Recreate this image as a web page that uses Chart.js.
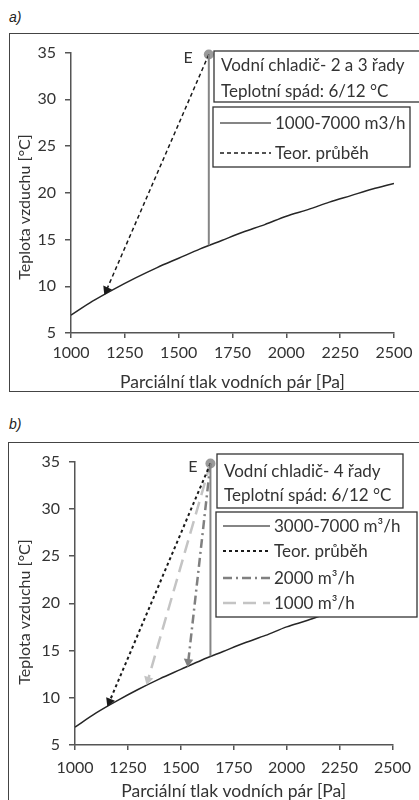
<!DOCTYPE html>
<html lang="cs">
<head>
<meta charset="UTF-8">
<title>Vodní chladič – průběh chlazení</title>
<script src="https://cdn.jsdelivr.net/npm/chart.js"></script>
<style>
    body {
        margin: 0;
        width: 419px;
        height: 800px;
        overflow: hidden;
        background: #fff;
        position: relative;
    }
    .tag {
        position: absolute;
        font-family: "Liberation Sans", Arial, sans-serif;
        font-style: italic;
        font-size: 14px;
        color: #222;
    }
    .frame {
        position: absolute;
        border: 1.5px solid #444;
        box-sizing: border-box;
    }
    .panel {
        position: absolute;
        left: 0;
        width: 419px;
        height: 357px;
    }
</style>
</head>
<body>

<div class="tag" style="left:9px;top:9px">a)</div>
<div class="frame" style="left:9px;top:33px;width:440px;height:359px"></div>
<div class="panel" style="top:34px"><canvas id="chartA"></canvas></div>

<div class="tag" style="left:9px;top:416px">b)</div>
<div class="frame" style="left:8px;top:442px;width:440px;height:400px"></div>
<div class="panel" style="top:443px"><canvas id="chartB"></canvas></div>

<script>
    // saturation curve (both panels)
    const satPressure = [1000, 1100, 1200, 1300, 1400, 1500, 1600, 1700, 1800, 1900, 2000, 2100, 2200, 2300, 2400, 2500];
    const satTemp     = [6.9, 8.4, 9.7, 10.9, 12.0, 13.0, 14.0, 14.9, 15.8, 16.6, 17.5, 18.2, 19.0, 19.7, 20.4, 21.0];

    // inlet state E
    const pointE = [1640, 34.8];

    // panel a
    const aRealX   = [1640, 1640];
    const aRealY   = [34.8, 14.4];
    const aTheorX  = [1640, 1165];
    const aTheorY  = [34.8, 9.6];
    const aLegend  = ['1000-7000 m3/h', 'Teor. průběh'];
    const aTitle   = ['Vodní chladič- 2 a 3 řady', 'Teplotní spád: 6/12 °C'];

    // panel b
    const bRealX   = [1640, 1640];
    const bRealY   = [34.8, 14.4];
    const bTheorX  = [1640, 1163];
    const bTheorY  = [34.8, 9.6];
    const b2000X   = [1640, 1535];
    const b2000Y   = [34.8, 13.8];
    const b1000X   = [1640, 1345];
    const b1000Y   = [34.8, 11.9];
    const bLegend  = ['3000-7000 m³/h', 'Teor. průběh', '2000 m³/h', '1000 m³/h'];
    const bTitle   = ['Vodní chladič- 4 řady', 'Teplotní spád: 6/12 °C'];

    const xLabel = 'Parciální tlak vodních pár [Pa]';
    const yLabel = 'Teplota vzduchu [°C]';

    const FONT = 'Lato, "Open Sans", sans-serif';
    const TEXT = '#333';

    function pts(xs, ys) {
        return xs.map((x, i) => ({ x: x, y: ys[i] }));
    }

    // rotate the end triangle along the line direction (pixel space)
    function arrowRotation(ctx) {
        const d = ctx.dataset.data;
        const sx = ctx.chart.scales.x, sy = ctx.chart.scales.y;
        const a = d[0], b = d[d.length - 1];
        const dx = sx.getPixelForValue(b.x) - sx.getPixelForValue(a.x);
        const dy = sy.getPixelForValue(b.y) - sy.getPixelForValue(a.y);
        return Math.atan2(dx, -dy) * 180 / Math.PI;
    }

    function arrowLine(label, xs, ys, color, dash, width) {
        return {
            label: label,
            data: pts(xs, ys),
            showLine: true,
            borderColor: color,
            borderDash: dash,
            borderWidth: width,
            pointStyle: 'triangle',
            pointBackgroundColor: color,
            pointBorderWidth: 0,
            pointRadius: ctx => ctx.dataIndex === ctx.dataset.data.length - 1 ? 5.5 : 0,
            pointRotation: arrowRotation,
            inLegend: true,
            clip: false
        };
    }

    function curveSet() {
        return {
            label: 'sat',
            data: pts(satPressure, satTemp),
            showLine: true,
            borderColor: '#262626',
            borderWidth: 1.5,
            pointRadius: 0,
            cubicInterpolationMode: 'monotone'
        };
    }

    function pointSet() {
        return {
            label: 'E',
            data: [{ x: pointE[0], y: pointE[1] }],
            pointRadius: 5,
            pointBackgroundColor: '#9a9a9a',
            pointBorderWidth: 0,
            clip: false
        };
    }

    function realSet(label, xs, ys) {
        return {
            label: label,
            data: pts(xs, ys),
            showLine: true,
            borderColor: '#858585',
            borderWidth: 2,
            pointRadius: 0,
            inLegend: true
        };
    }

    // boxes, axis title and E label drawn on top of the plot
    const panelDecor = {
        id: 'panelDecor',
        afterDatasetsDraw(chart, args, o) {
            const ctx = chart.ctx;
            const sx = chart.scales.x, sy = chart.scales.y;
            ctx.save();

            // y axis title
            ctx.save();
            ctx.translate(o.yTitleX, o.yTitleY);
            ctx.rotate(-Math.PI / 2);
            ctx.font = '16px ' + FONT;
            ctx.fillStyle = TEXT;
            ctx.textAlign = 'center';
            ctx.textBaseline = 'middle';
            ctx.fillText(yLabel, 0, 0);
            ctx.restore();

            // E
            ctx.font = '16px ' + FONT;
            ctx.fillStyle = TEXT;
            ctx.textAlign = 'right';
            ctx.textBaseline = 'middle';
            ctx.fillText('E', sx.getPixelForValue(pointE[0]) - o.eGap, sy.getPixelForValue(pointE[1]) + 3);

            ctx.font = '17px ' + FONT;
            ctx.lineWidth = 1.3;
            ctx.strokeStyle = '#333';
            ctx.textAlign = 'left';

            // title box
            const t = o.titleBox;
            ctx.fillStyle = '#fff';
            ctx.fillRect(t.x, t.y, t.w, t.h);
            ctx.strokeRect(t.x, t.y, t.w, t.h);
            ctx.fillStyle = TEXT;
            o.titleLines.forEach((s, i) => ctx.fillText(s, t.x + 7, t.y + t.rows[i]));

            // legend box
            const l = o.legendBox;
            ctx.fillStyle = '#fff';
            ctx.fillRect(l.x, l.y, l.w, l.h);
            ctx.strokeRect(l.x, l.y, l.w, l.h);
            chart.data.datasets.filter(d => d.inLegend).forEach((d, i) => {
                const y = l.y + l.rows[i];
                ctx.save();
                ctx.strokeStyle = d.borderColor;
                ctx.lineWidth = d.borderWidth;
                ctx.setLineDash(d.borderDash || []);
                ctx.beginPath();
                ctx.moveTo(l.x + 7, y);
                ctx.lineTo(l.x + 7 + l.sample, y);
                ctx.stroke();
                ctx.restore();
                ctx.fillStyle = TEXT;
                ctx.fillText(d.label, l.x + 11 + l.sample, y + 1);
            });
            ctx.restore();
        }
    };

    function makeChart(id, datasets, g) {
        new Chart(document.getElementById(id), {
            type: 'scatter',
            data: { datasets: datasets },
            options: {
                responsive: true,
                maintainAspectRatio: false,
                animation: false,
                layout: { padding: { left: 0, top: g.top, right: g.right, bottom: 0 } },
                plugins: {
                    legend: { display: false },
                    tooltip: { enabled: false },
                    panelDecor: g.decor
                },
                scales: {
                    x: {
                        type: 'linear',
                        min: 1000, max: 2500,
                        ticks: {
                            stepSize: 250, color: TEXT, font: { family: FONT, size: 16 },
                            padding: g.xPad, maxRotation: 0,
                            callback: v => String(v)
                        },
                        grid: { drawOnChartArea: false, drawTicks: true, tickLength: 5, color: '#555', lineWidth: 1.5 },
                        border: { color: '#555', width: 1.5 },
                        title: { display: true, text: xLabel, color: TEXT, font: { family: FONT, size: 17.5, lineHeight: 1.0 }, padding: { top: 0, bottom: 0 } },
                        afterFit: s => { s.height = g.xHeight; }
                    },
                    y: {
                        min: 5, max: 35,
                        ticks: { stepSize: 5, color: TEXT, font: { family: FONT, size: 16 }, padding: 9 },
                        grid: { drawOnChartArea: false, drawTicks: true, tickLength: 6, color: '#555', lineWidth: 1.5 },
                        border: { color: '#555', width: 1.5 },
                        afterFit: s => { s.width = g.yWidth; }
                    }
                }
            },
            plugins: [panelDecor]
        });
    }

    makeChart('chartA', [
        realSet(aLegend[0], aRealX, aRealY),
        arrowLine(aLegend[1], aTheorX, aTheorY, '#1a1a1a', [4, 3], 1.5),
        curveSet(),
        pointSet()
    ], {
        top: 14, right: 25, yWidth: 71, xHeight: 58, xPad: 5,
        decor: {
            yTitleX: 25, yTitleY: 173, eGap: 16,
            titleLines: aTitle,
            titleBox: { x: 214, y: 17, w: 230, h: 51, rows: [15, 41] },
            legendBox: { x: 213, y: 73, w: 197, h: 60, rows: [16, 46], sample: 51 }
        }
    });

    makeChart('chartB', [
        realSet(bLegend[0], bRealX, bRealY),
        arrowLine(bLegend[1], bTheorX, bTheorY, '#1a1a1a', [3, 3], 2),
        arrowLine(bLegend[2], b2000X, b2000Y, '#808080', [9, 4, 2, 4], 2.5),
        arrowLine(bLegend[3], b1000X, b1000Y, '#c4c4c4', [13, 7], 2.5),
        curveSet(),
        pointSet()
    ], {
        top: 15, right: 25, yWidth: 75, xHeight: 55, xPad: 8,
        decor: {
            yTitleX: 25, yTitleY: 169, eGap: 13,
            titleLines: bTitle,
            titleBox: { x: 217, y: 11, w: 186, h: 54, rows: [18, 42] },
            legendBox: { x: 216, y: 69, w: 201, h: 105, rows: [14, 39, 66, 91], sample: 47 }
        }
    });
</script>

</body>
</html>
